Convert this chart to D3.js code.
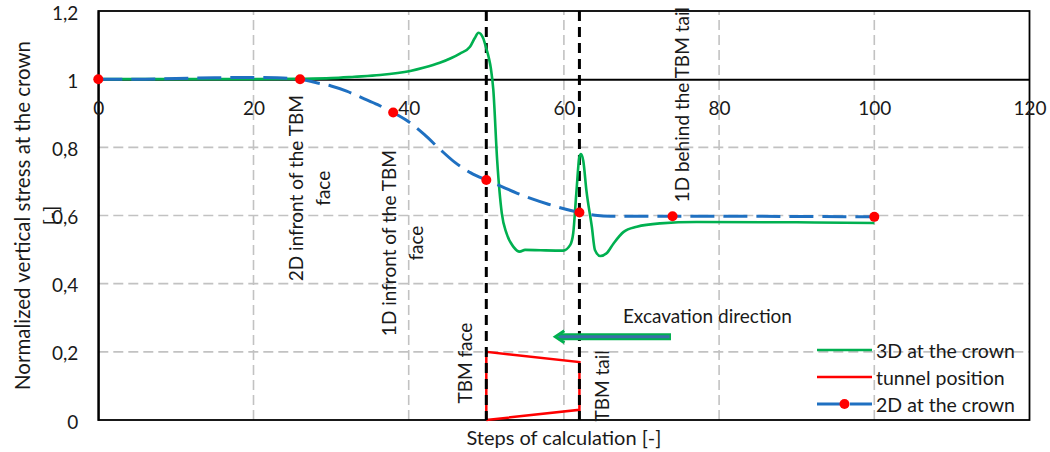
<!DOCTYPE html>
<html>
<head>
<meta charset="utf-8">
<script src="https://cdn.jsdelivr.net/npm/d3@7/dist/d3.min.js"></script>
<style>
  html, body { margin: 0; padding: 0; background: #fff; }
  svg { display: block; font-family: Lato, "Open Sans", sans-serif; }
</style>
</head>
<body>
<svg id="chart" width="1050" height="452"></svg>
<script>
// ---------- data ----------
const xTickValues = [0, 20, 40, 60, 80, 100, 120];
const yTickValues = [0, 0.2, 0.4, 0.6, 0.8, 1.0, 1.2];
const yTickLabels = ["0", "0,2", "0,4", "0,6", "0,8", "1", "1,2"];

// 3D at the crown
const steps3D  = [0, 10, 20, 26, 30, 33, 36.3, 40.2, 42, 44, 45.5, 46.6, 47.9, 48.5, 49.0, 49.6, 50.0, 50.3, 50.6, 50.9, 51.4, 52.0, 52.6, 53.5, 54.3, 55, 57, 59.9, 60.8, 61.2, 61.6, 62.0, 62.2, 62.5, 62.9, 63.6, 64.0, 64.7, 65.5, 66.4, 67.7, 69.4, 72.4, 77.1, 90, 100];
const stress3D = [1.0, 1.0, 1.0, 1.001, 1.003, 1.007, 1.012, 1.024, 1.034, 1.048, 1.062, 1.075, 1.095, 1.12, 1.136, 1.12, 1.09, 1.065, 1.03, 0.97, 0.762, 0.606, 0.548, 0.508, 0.494, 0.499, 0.498, 0.497, 0.513, 0.548, 0.665, 0.772, 0.780, 0.76, 0.674, 0.567, 0.499, 0.481, 0.489, 0.518, 0.552, 0.567, 0.577, 0.581, 0.580, 0.578];

// 2D at the crown
const steps2D  = [0, 5, 10, 15, 20, 23, 26, 28, 30, 32, 34, 36, 38, 40, 42, 44, 46, 48, 50, 52, 54, 56, 58, 60, 62, 64, 66, 74, 100];
const stress2D = [1.0, 1.0, 1.002, 1.004, 1.005, 1.004, 1.0, 0.99, 0.98, 0.965, 0.945, 0.925, 0.902, 0.875, 0.838, 0.795, 0.755, 0.725, 0.704, 0.685, 0.665, 0.648, 0.633, 0.62, 0.609, 0.601, 0.598, 0.598, 0.596];
const markerSteps2D  = [0, 26, 38, 50, 62, 74, 100];
const markerStress2D = [1.0, 1.0, 0.902, 0.704, 0.609, 0.598, 0.596];

// tunnel position (TBM outline)
const tunnelSteps  = [50, 50, 62, 62, 50];
const tunnelStress = [0, 0.2, 0.17, 0.03, 0];

// TBM face / tail positions
const tbmSteps = [50, 62];

// excavation arrow (from -> to)
const arrowSteps = [73.8, 58.9];
const arrowStress = [0.244, 0.244];

const legendLabels = ["3D at the crown", "tunnel position", "2D at the crown"];

// ---------- layout ----------
const svg = d3.select("#chart");
const x = d3.scaleLinear().domain([0, 120]).range([98.3, 1029.5]);
const y = d3.scaleLinear().domain([0, 1.2]).range([420, 11]);

const FS_TITLE = 20, FS_TICK = 19, FS_ANN = 19, FS_LEG = 19.5;
const textColor = "#1a1a1a";
const green = "#00B050", blue = "#1F70C1", red = "#FF0000";

// gridlines
const grid = svg.append("g");
grid.selectAll("line.v").data(xTickValues.filter(d => d > 0 && d < 120)).join("line")
  .attr("x1", d => x(d)).attr("x2", d => x(d)).attr("y1", y(0)).attr("y2", y(1.2))
  .attr("stroke", "#c2c2c2").attr("stroke-width", 1.6).attr("stroke-dasharray", "10,5");
grid.selectAll("line.h").data(yTickValues.filter(d => d > 0 && d < 1.0)).join("line")
  .attr("x1", x(0)).attr("x2", x(120)).attr("y1", d => y(d)).attr("y2", d => y(d))
  .attr("stroke", "#c2c2c2").attr("stroke-width", 1.6).attr("stroke-dasharray", "10,5");

// frame
svg.append("rect").attr("x", x(0)).attr("y", y(1.2)).attr("width", x(120) - x(0)).attr("height", y(0) - y(1.2))
  .attr("fill", "none").attr("stroke", "#000").attr("stroke-width", 1.8);

// y axis
const yAxis = d3.axisLeft(y).tickValues(yTickValues).tickSize(0).tickPadding(0)
  .tickFormat((d, i) => yTickLabels[i]);
const gy = svg.append("g").attr("transform", `translate(${x(0)},0)`).call(yAxis);
gy.select(".domain").attr("stroke", "#000").attr("stroke-width", 2);
gy.selectAll("text").attr("x", -20).attr("dy", 8).attr("font-size", FS_TICK).attr("fill", textColor)
  .attr("font-family", "Lato, sans-serif");

// x axis at y = 1
const xAxis = d3.axisBottom(x).tickValues(xTickValues).tickSize(0).tickPadding(0);
const gx = svg.append("g").attr("transform", `translate(0,${y(1)})`).call(xAxis);
gx.select(".domain").attr("stroke", "#000").attr("stroke-width", 2);
gx.selectAll("text").attr("y", 36).attr("dy", 0).attr("font-size", FS_TICK).attr("fill", textColor)
  .attr("font-family", "Lato, sans-serif");

// axis titles
svg.append("text").attr("x", (x(0) + x(120)) / 2).attr("y", 437).attr("text-anchor", "middle")
  .attr("dominant-baseline", "central").attr("font-size", FS_TITLE).attr("fill", textColor)
  .text("Steps of calculation [-]");
const yt = svg.append("g").attr("transform", `translate(36,${(y(0) + y(1.2)) / 2}) rotate(-90)`);
yt.append("text").attr("y", -14).attr("text-anchor", "middle").attr("dominant-baseline", "central")
  .attr("font-size", FS_TITLE + 0.5).attr("fill", textColor).text("Normalized vertical stress at the crown");
yt.append("text").attr("y", 14).attr("text-anchor", "middle").attr("dominant-baseline", "central")
  .attr("font-size", FS_TITLE).attr("fill", textColor).text("[-]");

// tunnel position
const line = d3.line().x(d => x(d[0])).y(d => y(d[1]));
svg.append("path").datum(tunnelSteps.map((s, i) => [s, tunnelStress[i]]))
  .attr("d", line).attr("fill", "none").attr("stroke", red).attr("stroke-width", 2.5)
  .attr("stroke-linejoin", "miter");

// TBM face/tail dashed lines
svg.selectAll("line.tbm").data(tbmSteps).join("line")
  .attr("x1", d => x(d)).attr("x2", d => x(d)).attr("y1", y(1.2)).attr("y2", y(0))
  .attr("stroke", "#000").attr("stroke-width", 3).attr("stroke-dasharray", "10,6");

// 3D curve
const curveLine = d3.line().x(d => x(d[0])).y(d => y(d[1])).curve(d3.curveMonotoneX);
svg.append("path").datum(steps3D.map((s, i) => [s, stress3D[i]]))
  .attr("d", curveLine).attr("fill", "none").attr("stroke", green).attr("stroke-width", 2.6)
  .attr("stroke-linejoin", "round");

// 2D curve
svg.append("path").datum(steps2D.map((s, i) => [s, stress2D[i]]))
  .attr("d", curveLine).attr("fill", "none").attr("stroke", blue).attr("stroke-width", 3)
  .attr("stroke-dasharray", "24,9");
svg.selectAll("circle.m").data(markerSteps2D.map((s, i) => [s, markerStress2D[i]])).join("circle")
  .attr("cx", d => x(d[0])).attr("cy", d => y(d[1])).attr("r", 5).attr("fill", red);

// excavation arrow
const ax1 = x(arrowSteps[0]), ax2 = x(arrowSteps[1]), ay = y(arrowStress[0]);
svg.append("line").attr("x1", ax1).attr("x2", ax2 + 3).attr("y1", ay).attr("y2", ay)
  .attr("stroke", green).attr("stroke-width", 7);
svg.append("line").attr("x1", ax1 - 1.5).attr("x2", ax2 + 3).attr("y1", ay).attr("y2", ay)
  .attr("stroke", "#3a6fa8").attr("stroke-width", 3);
svg.append("path").attr("d", `M${ax2 + 9},${ay - 6} L${ax2},${ay} L${ax2 + 9},${ay + 6}`)
  .attr("fill", "none").attr("stroke", green).attr("stroke-width", 3);
svg.append("text").attr("x", x(67.6)).attr("y", y(0.308)).attr("dominant-baseline", "central")
  .attr("font-size", FS_ANN).attr("fill", textColor).text("Excavation direction");

// rotated annotations
const rotAnn = [
  { lines: ["2D infront of the TBM", "face"], sx: 27.15, sy: 0.680 },
  { lines: ["1D infront of the TBM", "face"], sx: 39.2, sy: 0.519 },
  { lines: ["TBM face"], sx: 47.25, sy: 0.167 },
  { lines: ["TBM tail"], sx: 64.8, sy: 0.100 },
  { lines: ["1D behind the TBM tail"], sx: 75.1, sy: 0.925 }
];
rotAnn.forEach(a => {
  const g = svg.append("g").attr("transform", `translate(${x(a.sx)},${y(a.sy)}) rotate(-90)`);
  const n = a.lines.length;
  a.lines.forEach((t, i) => {
    g.append("text").attr("y", (i - (n - 1) / 2) * 27).attr("text-anchor", "middle")
      .attr("dominant-baseline", "central").attr("font-size", FS_ANN).attr("fill", textColor).text(t);
  });
});

// legend
const lgX = 817, lgW = 55, lgY0 = 350, lgDy = 27;
const lg = svg.append("g");
legendLabels.forEach((lab, i) => {
  const yy = lgY0 + i * lgDy;
  if (i === 0) {
    lg.append("line").attr("x1", lgX).attr("x2", lgX + lgW).attr("y1", yy).attr("y2", yy)
      .attr("stroke", green).attr("stroke-width", 2.6);
  } else if (i === 1) {
    lg.append("line").attr("x1", lgX).attr("x2", lgX + lgW).attr("y1", yy).attr("y2", yy)
      .attr("stroke", red).attr("stroke-width", 2.5);
  } else {
    lg.append("line").attr("x1", lgX).attr("x2", lgX + lgW).attr("y1", yy).attr("y2", yy)
      .attr("stroke", blue).attr("stroke-width", 3).attr("stroke-dasharray", "24,9");
    lg.append("circle").attr("cx", lgX + lgW / 2).attr("cy", yy).attr("r", 5).attr("fill", red);
  }
  lg.append("text").attr("x", lgX + lgW + 4).attr("y", yy).attr("dominant-baseline", "central")
    .attr("font-size", FS_LEG).attr("fill", textColor).text(lab);
});
</script>
</body>
</html>
